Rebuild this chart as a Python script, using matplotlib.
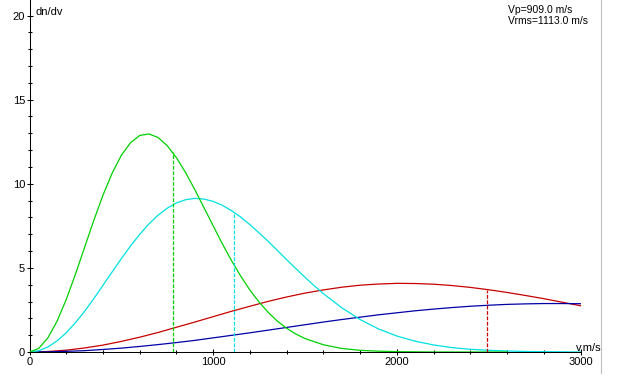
import matplotlib
matplotlib.use("Agg")
import matplotlib.pyplot as plt
from matplotlib.lines import Line2D
from matplotlib.ticker import MultipleLocator

# dn/dv curves (v in m/s)
v_green = [0, 50, 100, 150, 200, 250, 300, 350, 400, 450, 500, 550, 600, 650,
           700, 750, 800, 850, 900, 950, 1000, 1050, 1100, 1150, 1200, 1250,
           1300, 1350, 1400, 1450, 1500, 1600, 1700, 1800, 1900, 2000, 2100,
           2200, 2300, 2400, 2500, 2600]
dn_green = [0, 0.21, 0.84, 1.83, 3.12, 4.62, 6.22, 7.82, 9.32, 10.63, 11.69,
            12.44, 12.87, 12.96, 12.75, 12.26, 11.55, 10.66, 9.65, 8.58, 7.50,
            6.43, 5.43, 4.51, 3.68, 2.97, 2.35, 1.83, 1.41, 1.07, 0.80, 0.43,
            0.21, 0.10, 0.05, 0.02, 0.01, 0.0, 0.0, 0.0, 0.0, 0.0]

v_cyan = [0, 50, 100, 150, 200, 250, 300, 350, 400, 450, 500, 550, 600, 650,
          700, 750, 800, 850, 900, 950, 1000, 1050, 1100, 1150, 1200, 1250,
          1300, 1350, 1400, 1450, 1500, 1550, 1600, 1700, 1800, 1900, 2000,
          2100, 2200, 2300, 2400, 2500, 2600, 2700, 2800, 2900, 3000]
dn_cyan = [0, 0.07, 0.30, 0.66, 1.14, 1.74, 2.42, 3.17, 3.96, 4.76, 5.55, 6.30,
           6.99, 7.61, 8.13, 8.55, 8.86, 9.05, 9.13, 9.09, 8.95, 8.72, 8.40,
           8.02, 7.57, 7.08, 6.57, 6.03, 5.49, 4.96, 4.44, 3.94, 3.47, 2.63,
           1.93, 1.37, 0.95, 0.64, 0.42, 0.26, 0.16, 0.10, 0.06, 0.03, 0.02,
           0.01, 0.0]

v_all = list(range(0, 3100, 100))
dn_red = [0, 0.03, 0.11, 0.24, 0.41, 0.63, 0.88, 1.16, 1.47, 1.78, 2.10, 2.42,
          2.72, 3.01, 3.27, 3.50, 3.69, 3.85, 3.97, 4.04, 4.08, 4.07, 4.03,
          3.95, 3.84, 3.70, 3.54, 3.36, 3.17, 2.96, 2.75]
dn_blue = [0, 0.01, 0.04, 0.08, 0.15, 0.23, 0.33, 0.44, 0.56, 0.69, 0.84, 0.99,
           1.14, 1.30, 1.46, 1.62, 1.78, 1.93, 2.07, 2.21, 2.33, 2.45, 2.55,
           2.64, 2.72, 2.78, 2.83, 2.86, 2.88, 2.88, 2.87]

# vrms markers (dashed)
vrms = [780, 1113, 2493]
vrms_top = [11.86, 8.35, 3.70]

GREEN = "#00d000"
CYAN = "#00e0e0"
RED = "#c80000"
BLUE = "#0000a8"

fig = plt.figure(figsize=(6.22, 3.81), dpi=100)
ax = fig.add_axes([29.5 / 622, 29 / 381, 551 / 622, 352 / 381])

lw = 0.9
ax.plot(v_all, dn_red, color=RED, lw=lw, zorder=3)
ax.plot(v_all, dn_blue, color=BLUE, lw=lw, zorder=3)
ax.plot(v_cyan, dn_cyan, color=CYAN, lw=lw, zorder=3)
ax.plot(v_green, dn_green, color=GREEN, lw=lw, zorder=3)

for x, top, c in zip(vrms, vrms_top, [GREEN, CYAN, RED]):
    ax.plot([x, x], [0, top], color=c, lw=lw, dashes=(3, 1.3), zorder=3)

ax.set_xlim(0, 3000)
ax.set_ylim(0, 352 / 16.825)

for s in ["top", "right"]:
    ax.spines[s].set_visible(False)
for s in ["left", "bottom"]:
    ax.spines[s].set_linewidth(0.75)
    ax.spines[s].set_zorder(2)

ax.xaxis.set_major_locator(MultipleLocator(1000))
ax.xaxis.set_minor_locator(MultipleLocator(200))
ax.yaxis.set_major_locator(MultipleLocator(5))
ax.yaxis.set_minor_locator(MultipleLocator(1))
ax.tick_params(which="major", direction="inout", length=4.5, width=0.75,
               labelsize=8, pad=1)
ax.tick_params(which="minor", direction="inout", length=2.5, width=0.75)
for lab in ax.get_xticklabels() + ax.get_yticklabels():
    lab.set_family("Liberation Sans")

fig.text(35.7 / 622, 1 - 15 / 381, "dn/dv", fontsize=8,
         family="Liberation Sans", va="baseline", ha="left")
fig.text(576 / 622, 1 - 351 / 381, "v,m/s", fontsize=8,
         family="Liberation Sans", va="baseline", ha="left")
fig.text(508 / 622, 1 - 12.7 / 381, "Vp=909.0 m/s", fontsize=7.5,
         family="Liberation Sans", va="baseline", ha="left")
fig.text(508 / 622, 1 - 24.5 / 381, "Vrms=1113.0 m/s", fontsize=7.5,
         family="Liberation Sans", va="baseline", ha="left")

# light grey border line on the right
fig.add_artist(Line2D([600.5 / 622, 600.5 / 622], [1 - 373 / 381, 1],
                      transform=fig.transFigure, color="#c0c0c0", lw=0.8))

fig.savefig("out.png", dpi=100)
